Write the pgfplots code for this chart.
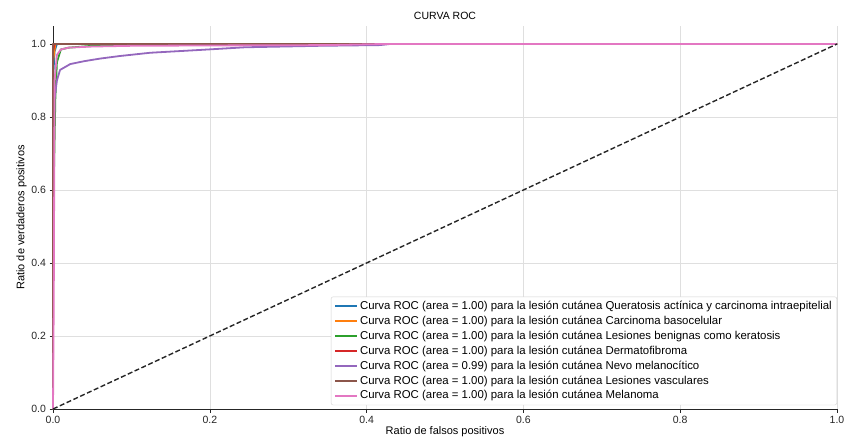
\documentclass[border=0pt]{standalone}
\usepackage{pgfplots}
\pgfplotsset{compat=1.18}
\usepackage{fontspec}
\setmainfont{Liberation Sans}
\definecolor{tblue}{HTML}{1F77B4}
\definecolor{torange}{HTML}{FF7F0E}
\definecolor{tgreen}{HTML}{2CA02C}
\definecolor{tred}{HTML}{D62728}
\definecolor{tpurple}{HTML}{9467BD}
\definecolor{tbrown}{HTML}{8C564B}
\definecolor{tpink}{HTML}{E377C2}
\begin{document}
\begin{tikzpicture}
\path[use as bounding box] (-53bp,-35bp) rectangle (795bp,409bp);
\begin{axis}[
  scale only axis, width=784bp, height=383.25bp,
  xmin=0, xmax=1, ymin=0, ymax=1.05,
  axis x line*=bottom, axis y line*=left,
  axis line style={black!85, line width=0.8pt},
  xtick={0,0.2,0.4,0.6,0.8,1}, ytick={0,0.2,0.4,0.6,0.8,1},
  xticklabels={0.0,0.2,0.4,0.6,0.8,1.0},
  yticklabels={0.0,0.2,0.4,0.6,0.8,1.0},
  tick align=outside, major tick length=3.5bp,
  tick style={black!85, line width=0.6pt},
  grid=major, major grid style={gray!25, line width=0.5pt},
  font=\fontsize{11bp}{13bp}\selectfont,
  tick label style={font=\fontsize{10.5bp}{12bp}\selectfont, text=black!85},
  /pgf/number format/assume math mode=true,
  title={CURVA ROC}, title style={font=\fontsize{10.5bp}{12bp}\selectfont, yshift=-3bp},
  xlabel={Ratio de falsos positivos}, ylabel={Ratio de verdaderos positivos},
  xlabel style={yshift=4bp}, ylabel style={yshift=-2bp},
  legend style={at={(1.0,0.01)}, anchor=south east, font=\fontsize{11.4bp}{13bp}\selectfont,
    draw=gray!35, rounded corners=2pt, fill=white,
    row sep=1bp, inner xsep=3bp, inner ysep=2.5bp},
  legend cell align=left,
  legend image code/.code={\draw[mark repeat=2,mark phase=2,#1] plot coordinates {(0bp,0bp) (11bp,0bp) (22bp,0bp)};},
  legend image post style={line width=2bp},
  every axis plot/.append style={line width=1.8bp, line join=round},
  clip=false,
]
\addplot[tblue] coordinates {(0,0) (0,0.9) (0.002,0.98) (0.005,1) (1,1)};
\addlegendentry{Curva ROC (area = 1.00) para la lesión cutánea Queratosis actínica y carcinoma intraepitelial}
\addplot[torange] coordinates {(0,0) (0,0.95) (0.003,1) (1,1)};
\addlegendentry{Curva ROC (area = 1.00) para la lesión cutánea Carcinoma basocelular}
\addplot[tgreen] coordinates {(0,0) (0,0.5) (0.003,0.85) (0.005,0.95) (0.01,0.985) (0.02,0.99) (0.05,0.995) (0.1,0.998) (0.15,1) (1,1)};
\addlegendentry{Curva ROC (area = 1.00) para la lesión cutánea Lesiones benignas como keratosis}
\addplot[tred] coordinates {(0,0) (0,0.98) (0.002,1) (1,1)};
\addlegendentry{Curva ROC (area = 1.00) para la lesión cutánea Dermatofibroma}
\addplot[tpurple] coordinates {(0,0) (0,0.6) (0.002,0.85) (0.005,0.9) (0.009,0.929) (0.022,0.945) (0.04,0.953) (0.06,0.96) (0.085,0.967) (0.124,0.976) (0.19,0.984) (0.245,0.991) (0.34,0.995) (0.417,0.997) (0.43,1) (1,1)};
\addlegendentry{Curva ROC (area = 0.99) para la lesión cutánea Nevo melanocítico}
\addplot[tbrown] coordinates {(0,0) (0,1) (1,1)};
\addlegendentry{Curva ROC (area = 1.00) para la lesión cutánea Lesiones vasculares}
\addplot[tpink] coordinates {(0,0) (0.001,0.3) (0.002,0.9) (0.005,0.97) (0.01,0.985) (0.02,0.99) (0.05,0.993) (0.1,0.995) (0.2,0.996) (0.35,0.997) (0.42,1) (1,1)};
\addlegendentry{Curva ROC (area = 1.00) para la lesión cutánea Melanoma}
\addplot[black!85, line width=1.4bp, dash pattern=on 5bp off 2.5bp, forget plot] coordinates {(0,0) (1,1)};
\end{axis}
\end{tikzpicture}
\end{document}
